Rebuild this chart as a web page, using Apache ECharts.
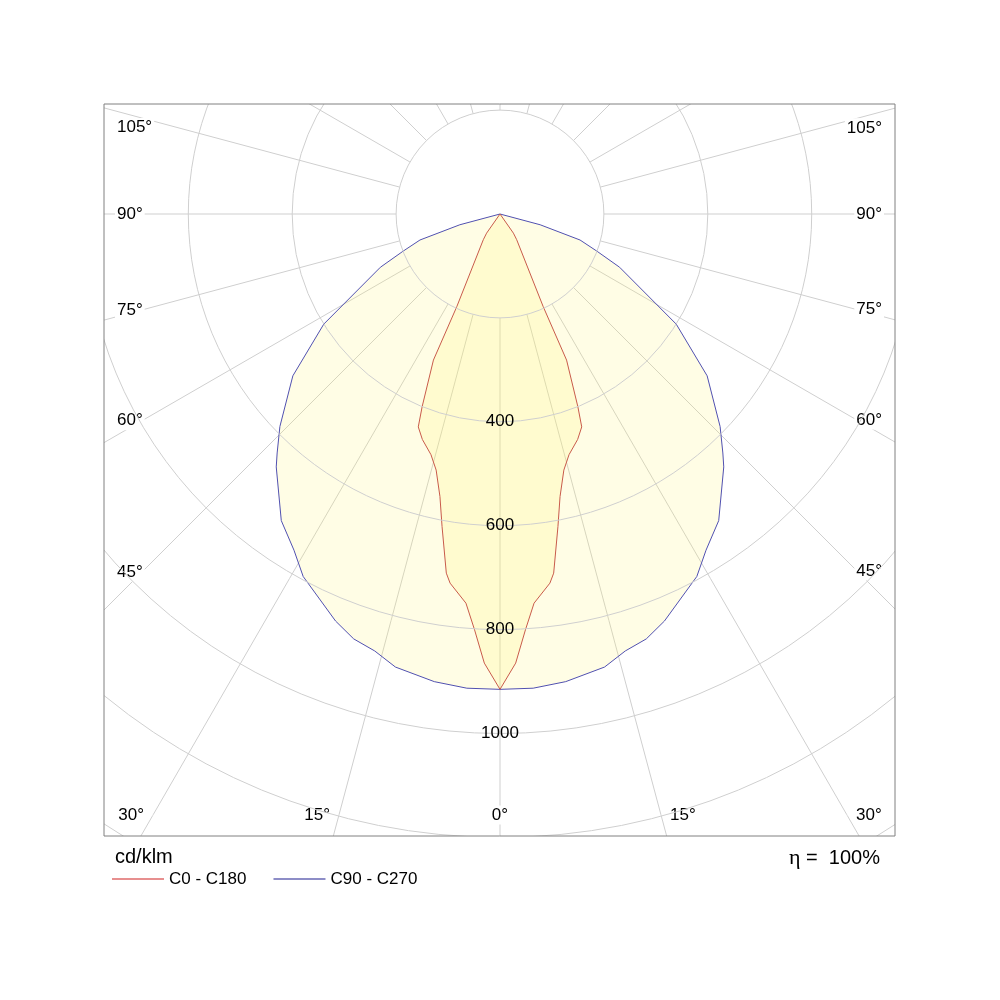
<!DOCTYPE html>
<html>
<head>
<meta charset="utf-8">
<script src="https://cdn.jsdelivr.net/npm/echarts@6/dist/echarts.min.js"></script>
<style>html,body{margin:0;background:#fff}#main{width:1000px;height:1000px}</style>
</head>
<body>
<div id="main"></div>
<script>
// half curves, angle from nadir (deg) -> cd/klm, mirrored for the other half
var redAngles = [0, 2, 3.5, 5, 7.7, 8.5, 10.5, 12, 14, 16, 19, 21, 22, 24.5, 25, 33, 35];
var redValues = [915, 865, 802, 752, 717, 699, 612, 556, 508, 482, 459, 439, 400, 309, 197, 59, 45];
var blueAngles = [0, 4, 8, 13, 16, 19, 22, 28.5, 31.5, 35.5, 41.5, 43, 46, 52, 58, 66, 69, 72, 75];
var blueValues = [915, 915, 909, 895, 875, 865, 845, 794, 759, 725, 650, 629, 589, 506, 400, 252, 200, 162, 80];
var ringLabels = [400, 600, 800, 1000];
var sideTicks = [45, 60, 75, 90, 105];
var bottomTicks = [0, 15, 30];

var FONT = 'Liberation Sans, Arial, sans-serif';
var RED = '#d02020', BLUE = '#1c1c90';
var CX = 500, CY = 214, R = 737.7, RMAX = 1420, pxPerCd = R / RMAX;
var box = {l: 104, t: 104, r: 895, b: 836};

function fullCurve(angles, values) {
  var pts = [[0, 90]];
  for (var i = angles.length - 1; i >= 0; i--) pts.push([values[i], angles[i]]);
  for (var j = 0; j < angles.length; j++) pts.push([values[j], 360 - angles[j]]);
  pts.push([0, 270]);
  return pts;
}

function tickLabels() {
  var out = [];
  sideTicks.forEach(function (t) {
    var rad = t * Math.PI / 180;
    [1, -1].forEach(function (side) {
      var d = side > 0 ? CX - (box.l + 38) : (box.r - 38) - CX;
      out.push({
        name: t + '°',
        value: [d / Math.sin(rad) / pxPerCd, side > 0 ? t : 360 - t],
        label: {align: side > 0 ? 'left' : 'right', verticalAlign: t > 90 ? 'top' : 'middle', offset: [side * -27, 0]}
      });
    });
  });
  bottomTicks.forEach(function (t) {
    var rad = t * Math.PI / 180;
    var r = (box.b - 21 - CY) / Math.cos(rad) / pxPerCd;
    if (t === 0) {
      out.push({name: '0°', value: [r, 0], label: {align: 'center', verticalAlign: 'middle'}});
      return;
    }
    out.push({name: t + '°', value: [r, t], label: {align: 'right', verticalAlign: 'middle', offset: [-7, 0]}});
    out.push({name: t + '°', value: [r, 360 - t], label: {align: 'left', verticalAlign: 'middle', offset: [7, 0]}});
  });
  return out;
}

var myChart = echarts.init(document.getElementById('main'));
var gridLine = {color: '#cfcfcf', width: 1};

var option = {
  animation: false,
  title: [
    {text: 'cd/klm', left: 115, top: 847, padding: 0, z: 300,
      textStyle: {fontSize: 20, fontWeight: 'normal', color: '#000', fontFamily: FONT}},
    {text: '{g|η} =  100%', right: 120, top: 847, padding: 0, z: 300,
      textStyle: {fontSize: 20, fontWeight: 'normal', color: '#000', fontFamily: FONT,
        rich: {g: {fontFamily: 'Liberation Serif, serif', fontSize: 22}}}}
  ],
  legend: {
    left: 112, top: 870.5, padding: 0, z: 300, icon: 'rect', itemWidth: 52, itemHeight: 1, itemGap: 27,
    textStyle: {fontSize: 17, color: '#000', fontFamily: FONT},
    data: [
      {name: 'C0 - C180', itemStyle: {color: RED, borderWidth: 0, opacity: 1}},
      {name: 'C90 - C270', itemStyle: {color: BLUE, borderWidth: 0, opacity: 1}}
    ]
  },
  polar: [
    {center: [CX, CY], radius: [103.9, R]},
    {center: [CX, CY], radius: R}
  ],
  angleAxis: [
    {polarIndex: 0, type: 'value', min: 0, max: 360, interval: 15, startAngle: 270,
      axisLine: {show: false}, axisTick: {show: false}, axisLabel: {show: false},
      splitLine: {show: true, lineStyle: gridLine}},
    {polarIndex: 1, type: 'value', min: 0, max: 360, startAngle: 270, show: false}
  ],
  radiusAxis: [
    {polarIndex: 0, type: 'value', min: 200, max: RMAX, interval: 200, z: 10,
      axisLine: {show: false}, axisTick: {show: false},
      splitLine: {show: true, lineStyle: gridLine},
      axisLabel: {show: true, margin: 0, align: 'center', verticalAlign: 'middle',
        fontSize: 17, color: '#000', fontFamily: FONT,
        formatter: function (v) { return ringLabels.indexOf(v) >= 0 ? String(v) : ''; }}},
    {polarIndex: 1, type: 'value', min: 0, max: RMAX, show: false}
  ],
  series: [
    {
      type: 'line', name: 'C90 - C270', coordinateSystem: 'polar', polarIndex: 1,
      data: fullCurve(blueAngles, blueValues), symbol: 'none', color: BLUE,
      lineStyle: {width: 1, color: '#5050b0'},
      areaStyle: {color: 'rgba(255,244,110,0.25)'}
    },
    {
      type: 'line', name: 'C0 - C180', coordinateSystem: 'polar', polarIndex: 1,
      data: fullCurve(redAngles, redValues), symbol: 'none', color: RED,
      lineStyle: {width: 1, color: '#c85a4a'},
      areaStyle: {color: 'rgba(255,244,110,0.25)'}
    },
    {
      type: 'scatter', coordinateSystem: 'polar', polarIndex: 1, silent: true, z: 5,
      data: tickLabels(), symbolSize: 1, itemStyle: {color: '#fff', opacity: 1},
      label: {show: true, position: 'inside', formatter: '{b}', fontSize: 17, color: '#000',
        opacity: 1, textBorderWidth: 0, fontFamily: FONT, backgroundColor: '#fff', padding: [1, 2]}
    }
  ],
  graphic: [
    {type: 'rect', z: 100, shape: {x: 0, y: 0, width: 1000, height: box.t}, style: {fill: '#fff'}},
    {type: 'rect', z: 100, shape: {x: 0, y: box.b, width: 1000, height: 1000 - box.b}, style: {fill: '#fff'}},
    {type: 'rect', z: 100, shape: {x: 0, y: 0, width: box.l, height: 1000}, style: {fill: '#fff'}},
    {type: 'rect', z: 100, shape: {x: box.r, y: 0, width: 1000 - box.r, height: 1000}, style: {fill: '#fff'}},
    {type: 'rect', z: 110, shape: {x: box.l, y: box.t, width: box.r - box.l, height: box.b - box.t},
      style: {fill: 'none', stroke: '#808080', lineWidth: 1}}
  ]
};

myChart.setOption(option);
</script>
</body>
</html>
